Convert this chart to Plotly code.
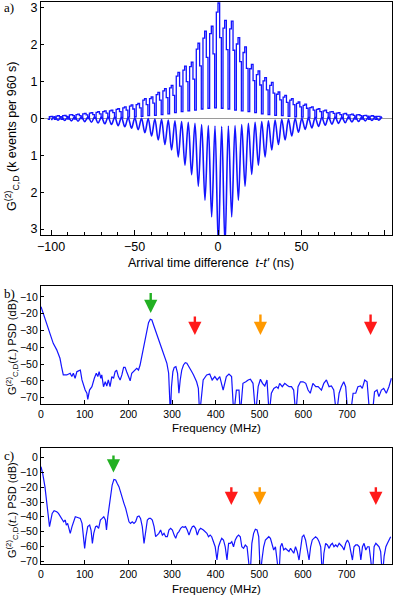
import numpy as np
import plotly.graph_objects as go

# ---------------- Panel a data ----------------
# measured histogram (1 ns bins, first bin starts at -102 ns), k events per 960 s
HIST_BIN_START = -102.0
HIST_BIN_WIDTH = 1.0
HIST_COUNTS = [
    -0.03, 0.04, 0.05, 0.03,  -0.03, 0.06, 0.07, 0.04,  -0.03, 0.07, 0.08, 0.05,
    -0.02, 0.09, 0.10, 0.07,  -0.02, 0.10, 0.11, 0.07,  -0.01, 0.12, 0.13, 0.09,
    -0.01, 0.14, 0.15, 0.10,   0.00, 0.16, 0.18, 0.12,   0.00, 0.18, 0.20, 0.14,
     0.01, 0.20, 0.22, 0.15,   0.02, 0.24, 0.26, 0.18,   0.02, 0.28, 0.31, 0.22,
     0.03, 0.33, 0.36, 0.25,   0.04, 0.37, 0.40, 0.28,   0.05, 0.49, 0.53, 0.37,
     0.07, 0.53, 0.58, 0.41,   0.08, 0.64, 0.70, 0.49,   0.10, 0.74, 0.80, 0.56,
     0.12, 0.82, 0.89, 0.62,   0.15, 1.14, 1.24, 0.87,   0.18, 1.30, 1.41, 0.99,
     0.20, 1.40, 1.52, 1.06,   0.22, 1.87, 2.03, 1.42,   0.25, 2.17, 2.36, 1.65,
     0.27, 2.29, 2.49, 1.74,   0.28, 2.87, 3.12, 2.18,   0.27, 2.44, 2.65, 1.86,
     0.25, 2.42, 2.63, 1.84,   0.22, 2.01, 2.18, 1.53,   0.20, 1.78, 1.93, 1.35,
     0.18, 1.34, 1.46, 1.02,   0.15, 1.18, 1.28, 0.90,   0.12, 1.01, 1.10, 0.77,
     0.10, 0.89, 0.97, 0.68,   0.08, 0.65, 0.71, 0.50,   0.07, 0.57, 0.62, 0.43,
     0.05, 0.49, 0.53, 0.37,   0.04, 0.40, 0.44, 0.31,   0.03, 0.35, 0.38, 0.27,
     0.02, 0.29, 0.31, 0.22,   0.02, 0.24, 0.26, 0.18,   0.01, 0.20, 0.22, 0.15,
     0.00, 0.17, 0.18, 0.13,   0.00, 0.14, 0.15, 0.10,  -0.01, 0.12, 0.13, 0.09,
    -0.01, 0.10, 0.11, 0.08,  -0.02, 0.09, 0.10, 0.07,  -0.02, 0.07, 0.08, 0.06,
    -0.03, 0.06, 0.07, 0.05,  -0.03, 0.05, 0.05, 0.03,
]

# fitted curve (shown mirrored below zero): extrema every 2 ns starting at -99.8 ns
FIT_T_START = -99.8
FIT_T_STEP = 2.0
FIT_DEPTH = [
    0.05, -0.04, 0.055, -0.04, 0.06, -0.04, 0.07, -0.04, 0.08, -0.04,
    0.09, -0.04, 0.11, -0.04, 0.13, -0.03, 0.15, -0.03, 0.17, -0.03,
    0.20, -0.02, 0.23, -0.02, 0.27, -0.01, 0.31, 0.00, 0.39, 0.01,
    0.48, 0.02, 0.59, 0.03, 0.71, 0.05, 0.86, 0.07, 1.05, 0.09,
    1.27, 0.11, 1.53, 0.14, 1.84, 0.17, 2.22, 0.20, 2.67, 0.21,
    3.45, 0.22, 3.45, 0.21, 2.67, 0.20, 2.22, 0.17, 1.84, 0.14,
    1.52, 0.11, 1.27, 0.09, 1.05, 0.07, 0.86, 0.05, 0.71, 0.03,
    0.59, 0.02, 0.48, 0.01, 0.38, 0.00, 0.30, -0.01, 0.26, -0.02,
    0.22, -0.02, 0.19, -0.03, 0.16, -0.03, 0.14, -0.03, 0.12, -0.04,
    0.10, -0.04, 0.085, -0.04, 0.07, -0.04, 0.06, -0.04, 0.05, -0.04,
]

A_TICKVALS = [-3, -2, -1, 0, 1, 2, 3]
A_TICKTEXT = ["3", "2", "1", "0", "1", "2", "3"]
A_XTICKS = [-100, -50, 0, 50, 100]

# ---------------- Panel b data ----------------
PSD_B_FREQ = [0, 5, 12.6, 20, 28, 36, 43.4, 47, 51, 59, 66.7, 70.5, 74, 78, 82, 86, 90, 93.7, 97.5, 101,
              105, 107, 111, 116.5, 122, 126.5, 130, 133, 137, 139, 143, 147, 150.5, 154, 158, 162, 166,
              169.5, 173, 177, 181, 185, 189, 192.4, 196, 200, 204, 207.6, 211, 215, 219, 223, 226.7,
              230.5, 234, 238, 242, 246, 250, 253.7, 257.5, 261, 265, 268.6, 272, 276, 280, 284, 288,
              292, 294, 296, 298.5, 301.7, 304.8, 308.6, 312.4, 315.5, 318.5, 322, 326, 330, 333.7,
              337.5, 341, 345, 349, 352.4, 356, 360, 363, 371, 379, 386, 391.6, 397.7, 403, 409, 416.7,
              424, 430, 436, 441, 447, 453, 456, 462, 468.6, 474, 479, 485, 491, 496.8, 502, 506.7, 512,
              517, 522, 527, 532.6, 538.7, 542.5, 546, 552, 557.7, 563, 567.6, 573, 578, 583, 588, 593.6,
              599.6, 605.7, 611, 616, 622, 628.6, 634, 641.6, 647, 653, 659, 664.4, 669.7, 676, 682, 687,
              692.6, 697, 702, 708, 714, 720, 725, 731, 735, 740.6, 746, 752, 758, 763, 768.7, 773,
              778.7, 784, 790, 796, 801.6]
PSD_B_DB = [-15.8, -19.7, -26.7, -32.6, -37.6, -41.5, -46.5, -51.5, -56.4, -56.4, -55.4, -57.4, -55.4,
            -58.4, -54.5, -54, -53.5, -59.4, -63.4, -65.4, -67.3, -70.9, -65.4, -63.4, -58.4, -55.4,
            -57.4, -54.5, -58.4, -56.4, -63.4, -60.5, -63, -59.4, -63.4, -57.4, -58.4, -54.5, -53.5,
            -57.4, -59.4, -56.4, -51.9, -51.9, -54.5, -57.4, -59.9, -55.4, -54.5, -53.5, -52.5, -53.5,
            -50.5, -45.5, -40.5, -34.6, -29.6, -25.3, -23.3, -23.7, -26.7, -29.6, -32.6, -35.6, -37.6,
            -40.5, -43.5, -46.5, -49.5, -55.4, -63.4, -80, -63.4, -54.5, -51.9, -51.5, -55.4, -67.3,
            -59.4, -53.5, -50.5, -49.1, -49.5, -51, -52.5, -54.5, -56.4, -58.4, -60.5, -64.4, -80,
            -59.4, -56.4, -55.9, -59.4, -57.4, -59.4, -57.4, -65.4, -57.4, -55.9, -57.4, -80, -65.4,
            -65.4, -80, -61.4, -60.5, -59.4, -59, -61.4, -80, -63.4, -59, -61.4, -63, -59.4, -80,
            -67.3, -64.4, -63.4, -64.4, -61.4, -63.4, -61.4, -62.5, -63.4, -63.4, -65.4, -80, -63.4,
            -60.5, -60.5, -61.4, -65.4, -67.3, -61.4, -63.4, -63.4, -65.4, -61.4, -59.4, -63.4, -63,
            -65.4, -80, -67.3, -63.4, -60.5, -63.4, -80, -80, -67.3, -67.3, -63.4, -63, -64.4, -59.4,
            -60.5, -80, -80, -66.4, -65.4, -69.3, -65.4, -64.4, -67.3, -63.4, -58.4]

ARROW_B_FREQ = [251, 352, 502, 754]
ARROW_B_TAIL = [-6.8, -20.7, -19.5, -19.5]
ARROW_B_TIP = [-19.5, -32.6, -32.6, -32.6]
ARROW_B_COLOR = ["#22b022", "#ff1a1a", "#ff9900", "#ff1a1a"]

# ---------------- Panel c data ----------------
PSD_C_FREQ = [0, 3.8, 9, 13, 17, 19.5, 22.5, 25.6, 30, 36, 40, 44, 48, 51.8, 55.6, 58, 61, 63.4, 67, 71,
              75, 78.6, 84, 90, 94, 98, 100, 103, 107, 111.5, 114.6, 117.7, 120.8, 125, 128, 132, 136,
              140, 143.8, 147.6, 150, 153, 156, 159, 163, 167, 171, 174.7, 178.5, 182, 186, 190, 194,
              198, 201.6, 205, 209, 213, 216.8, 220.7, 224.5, 228, 232, 236, 240, 243.6, 247.5, 251,
              255, 259, 262.6, 266.4, 270, 274, 278, 281.8, 285.6, 289.4, 293, 297, 301, 305, 308.6,
              312.4, 316, 320, 324, 327.6, 331, 335, 339, 343, 346.6, 350, 354, 358, 362, 365.6, 372,
              380, 383.7, 387.5, 391, 395, 399, 403, 406.6, 410.5, 414, 418, 422, 426, 429.7, 433.5,
              437, 441, 445, 449, 452.6, 456.5, 460, 464, 468, 472, 475.6, 479, 483, 487, 491, 495,
              498.7, 502.5, 506, 510, 514, 518, 521.7, 525.5, 529, 533, 537, 541, 545, 548.5, 552, 556,
              560, 564, 568, 571.6, 575.4, 579, 583, 587, 591, 594.6, 598.4, 602, 606, 610, 614, 617.6,
              621.4, 625, 629, 633, 637, 640.7, 644.5, 648, 652, 656, 660, 663.6, 667.4, 671, 675, 679,
              683, 686.6, 690.4, 694, 698, 702, 706, 709.6, 713.4, 717, 721, 725, 729, 732.6, 736.4,
              740, 744, 748, 751.6, 755.4, 759, 763, 767, 770.6, 774.4, 778, 782, 786, 790, 793.6,
              797.5, 801]
PSD_C_DB = [-6.1, -10.6, -19.6, -28.7, -40, -46.7, -42.2, -37.7, -35.9, -36.6, -37.7, -40, -42.2, -43.4,
            -42.2, -45.6, -44.5, -46.7, -51.2, -46.7, -42.2, -40, -40.5, -41.1, -44.5, -53.5, -61.4,
            -53.5, -46.7, -45.6, -49, -58, -51.2, -46.7, -46.3, -47.8, -42.2, -41.1, -40, -42.2, -49,
            -40, -33.2, -25.3, -18.5, -14.7, -15.1, -17.4, -19.6, -23, -27.5, -30.9, -34.3, -40, -43.4,
            -44.5, -43.4, -44.5, -43.4, -40, -39.5, -41.1, -46.7, -58, -49, -42.2, -41.1, -41.1, -42.2,
            -46.7, -53.5, -52.4, -51.2, -49, -52.4, -51.2, -53.5, -53.5, -49, -47.8, -49, -52.4, -54.6,
            -51.2, -50, -47.8, -46.7, -47.2, -46.7, -49, -52.4, -49, -46.7, -46.3, -47.8, -52.4, -49,
            -47.8, -49, -51.2, -53.5, -52.4, -53.5, -56.9, -60.3, -69.3, -60.3, -56.9, -54.6, -55.7,
            -60.3, -69.3, -58, -58, -56.9, -60.3, -55.7, -53.5, -52.4, -53.5, -60.3, -61.4, -59.1,
            -60.3, -69.3, -80, -58, -51.2, -48.5, -49, -53.5, -80, -69.3, -60.3, -55.7, -54.6, -53.5,
            -54.6, -59.1, -62.5, -60.3, -69.3, -80, -60.3, -58, -62.5, -61.4, -62.5, -63.6, -61.4,
            -63.6, -64.7, -60.3, -63.6, -69.3, -60.3, -53.5, -52.4, -55.7, -62.5, -69.3, -60.3, -55.7,
            -54.6, -53.5, -54.6, -56.9, -60.3, -80, -64.7, -58, -59.1, -61.4, -59.1, -58, -60.3, -59.1,
            -60.3, -58, -59.1, -60.3, -62.5, -58, -55.7, -58, -63.6, -69.3, -60.3, -59.1, -59.1, -60.3,
            -69.3, -60.3, -58, -62.5, -60.3, -60.3, -69.3, -80, -60.3, -58, -59.1, -60.3, -63.6, -80,
            -66.6, -60.3, -58, -55.7, -53.5]

ARROW_C_FREQ = [166, 436, 501, 767]
ARROW_C_TAIL = [2.5, -19, -19, -19]
ARROW_C_TIP = [-10, -32, -32, -32]
ARROW_C_COLOR = ["#22b022", "#ff1a1a", "#ff9900", "#ff1a1a"]

FREQ_TICKS = [0, 100, 200, 300, 400, 500, 600, 700]
B_YTICKS = [-10, -20, -30, -40, -50, -60, -70]
C_YTICKS = [0, -10, -20, -30, -40, -50, -60, -70]

# ---------------- figure ----------------
W, H = 395, 597
BLUE = "#1414ff"
FONT = "Liberation Sans, Arial, sans-serif"
SERIF = "Liberation Serif, Times New Roman, serif"


def fx(p):
    return p / W


def fy(p):
    return 1 - p / H


hist_x = HIST_BIN_START + HIST_BIN_WIDTH * np.arange(len(HIST_COUNTS) + 1)
hist_y = list(HIST_COUNTS) + [HIST_COUNTS[-1]]
fit_t = FIT_T_START + FIT_T_STEP * np.arange(len(FIT_DEPTH))
fit_y = [-d for d in FIT_DEPTH]

fig = go.Figure()
fig.add_trace(go.Scatter(x=hist_x, y=hist_y, mode="lines", line=dict(color=BLUE, width=1.3, shape="hv"),
                         xaxis="x", yaxis="y", showlegend=False))
fig.add_trace(go.Scatter(x=fit_t, y=fit_y, mode="lines", line=dict(color=BLUE, width=1.6, shape="spline", smoothing=1.0),
                         xaxis="x", yaxis="y", showlegend=False))
fig.add_trace(go.Scatter(x=PSD_B_FREQ, y=PSD_B_DB, mode="lines", line=dict(color=BLUE, width=1.2),
                         xaxis="x2", yaxis="y2", showlegend=False))
fig.add_trace(go.Scatter(x=PSD_C_FREQ, y=PSD_C_DB, mode="lines", line=dict(color=BLUE, width=1.2),
                         xaxis="x3", yaxis="y3", showlegend=False))

xdom = [fx(41), fx(392)]
common = dict(showline=True, linecolor="black", linewidth=1.3, mirror=True, ticks="inside",
              tickcolor="black", showgrid=False, automargin=False)

layout = dict(
    width=W, height=H, margin=dict(l=0, r=0, t=0, b=0, pad=0),
    paper_bgcolor="white", plot_bgcolor="white", showlegend=False,
    font=dict(family=FONT, color="black"),
    xaxis=dict(domain=xdom, anchor="y", range=[-106, 104.2], tickvals=A_XTICKS, ticklen=5,
               minor=dict(dtick=10, tick0=0, ticks="inside", ticklen=3, tickcolor="black"),
               tickfont=dict(size=12.5), zeroline=False, **common),
    yaxis=dict(domain=[fy(235), fy(1.5)], anchor="x", range=[-3.16, 3.16], tickvals=A_TICKVALS,
               ticktext=A_TICKTEXT, ticklen=3, tickfont=dict(size=12.5),
               zeroline=True, zerolinecolor="#9a9a9a", zerolinewidth=1, **common),
    xaxis2=dict(domain=xdom, anchor="y2", range=[0, 803], tickvals=FREQ_TICKS, ticklen=4,
                tickfont=dict(size=10.5), zeroline=False, **common),
    yaxis2=dict(domain=[fy(404), fy(286)], anchor="x2", range=[-73.7, -3.5], tickvals=B_YTICKS, ticklen=3,
                tickfont=dict(size=10.5), zeroline=False, **common),
    xaxis3=dict(domain=xdom, anchor="y3", range=[0, 804], tickvals=FREQ_TICKS, ticklen=4,
                tickfont=dict(size=10.5), zeroline=False, **common),
    yaxis3=dict(domain=[fy(564.3), fy(447.7)], anchor="x3", range=[-72.2, 6.8], tickvals=C_YTICKS, ticklen=3,
                tickfont=dict(size=10.5), zeroline=False, **common),
)
fig.update_layout(**layout)


def title_ann(text, xp, yp, size, angle=0):
    return dict(text=text, x=fx(xp), y=fy(yp), xref="paper", yref="paper", xanchor="center",
                yanchor="middle", textangle=angle, showarrow=False, font=dict(size=size))


ann = []
# panel labels
for lab, yp in [("a)", 7.5), ("b)", 293), ("c)", 455)]:
    ann.append(dict(text=lab, x=fx(2), y=fy(yp), xref="paper", yref="paper", xanchor="left", yanchor="middle",
                    showarrow=False, font=dict(family=SERIF, size=13)))
# axis titles
ann.append(title_ann("G<sup>(2)</sup><sub>C,D</sub> (k events per 960 s)", 12, 137, 12.5, -90))
ann.append(title_ann("Arrival time difference  <i>t-t′</i> (ns)", 211, 263, 12.5))
ann.append(title_ann("G<sup>(2)</sup><sub>C,D</sub>(<i>t</i><sub>−</sub>) PSD (dB)", 12, 347, 11, -90))
ann.append(title_ann("Frequency (MHz)", 216, 428, 11.5))
ann.append(title_ann("G<sup>(2)</sup><sub>C,D</sub>(<i>t</i><sub>−</sub>) PSD (dB)", 12, 510, 11, -90))
ann.append(title_ann("Frequency (MHz)", 216, 589, 11.5))
# arrows
for fr, tl, tp, col in zip(ARROW_B_FREQ, ARROW_B_TAIL, ARROW_B_TIP, ARROW_B_COLOR):
    ann.append(dict(x=fr, y=tp, ax=fr, ay=tl, xref="x2", yref="y2", axref="x2", ayref="y2", text="",
                    showarrow=True, arrowhead=2, arrowsize=1.1, arrowwidth=2.4, arrowcolor=col))
for fr, tl, tp, col in zip(ARROW_C_FREQ, ARROW_C_TAIL, ARROW_C_TIP, ARROW_C_COLOR):
    ann.append(dict(x=fr, y=tp, ax=fr, ay=tl, xref="x3", yref="y3", axref="x3", ayref="y3", text="",
                    showarrow=True, arrowhead=2, arrowsize=1.1, arrowwidth=2.4, arrowcolor=col))
fig.update_layout(annotations=ann)

fig.write_html("out.html", config={"displayModeBar": False},
               post_script="document.body.style.margin='0';document.body.style.padding='0';")
